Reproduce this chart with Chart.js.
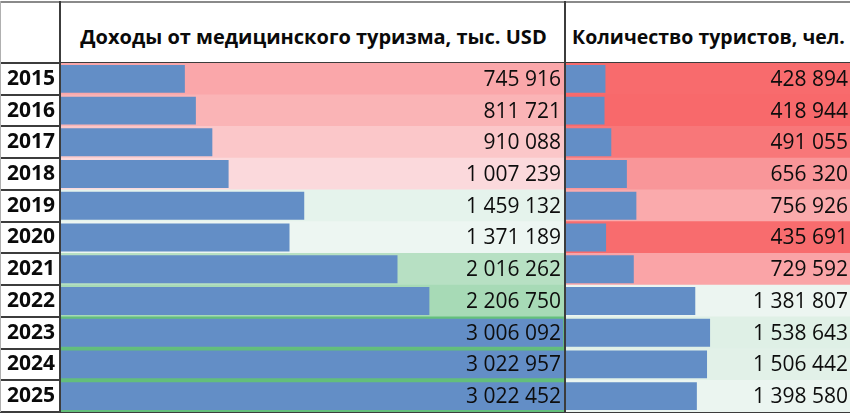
<!DOCTYPE html>
<html lang="ru">
<head>
<meta charset="utf-8">
<script src="https://cdn.jsdelivr.net/npm/chart.js@4.4.0/dist/chart.umd.min.js"></script>
<style>
  html, body { margin: 0; padding: 0; background: #fff; }
  #wrap { position: relative; width: 850px; height: 414px; overflow: hidden; font-family: 'Open Sans', sans-serif; }
  .hdr { position: absolute; top: 2px; height: 61px; display: flex; align-items: center; justify-content: center;
         font-weight: bold; font-size: 20px; color: #0a0a0a; white-space: nowrap; padding-top: 8px; box-sizing: border-box; }
  .vline { position: absolute; top: 1px; width: 2px; height: 411px; background: #3c3c3c; }
  .hline { position: absolute; left: 0; width: 850px; height: 2px; background: #8a8a8a; }
  canvas { position: absolute; top: 62px; }
</style>
</head>
<body>
<div id="wrap">
  <div class="hline" style="top:1px"></div>
  <div class="hdr" style="left:62px;width:503px">Доходы от медицинского туризма, тыс. USD</div>
  <div class="hdr" style="left:567px;width:283px;font-size:19.5px">Количество туристов, чел.</div>
  <canvas id="revenueChart" width="566" height="351" style="left:0"></canvas>
  <canvas id="touristChart" width="285" height="351" style="left:565px"></canvas>
  <div class="vline" style="left:0;background:#b0b0b0;width:1px"></div>
  <div class="vline" style="left:59px"></div>
  <div class="vline" style="left:564px"></div>
</div>
<script>
const years = ['2015', '2016', '2017', '2018', '2019', '2020', '2021', '2022', '2023', '2024', '2025'];
const revenue = [745916, 811721, 910088, 1007239, 1459132, 1371189, 2016262, 2206750, 3006092, 3022957, 3022452];
const tourists = [428894, 418944, 491055, 656320, 756926, 435691, 729592, 1381807, 1538643, 1506442, 1398580];

// Excel-like rules: one data bar scale and one 3-colour scale over both columns
const allValues = [...revenue, ...tourists];
const barMax = Math.max(...allValues);
const scaleMin = Math.min(...allValues);
const sorted = [...allValues].sort((a, b) => a - b);
const mid = sorted.length % 2 ? sorted[(sorted.length - 1) / 2]
  : (sorted[sorted.length / 2 - 1] + sorted[sorted.length / 2]) / 2;

const RED = [248, 105, 107], WHITE = [252, 252, 255], GREEN = [99, 190, 123];

function mix(a, b, t) {
  return 'rgb(' + a.map((c, i) => Math.round(c + (b[i] - c) * t)).join(',') + ')';
}

function cellColor(v) {
  if (v <= mid) return mix(RED, WHITE, (v - scaleMin) / (mid - scaleMin));
  return mix(WHITE, GREEN, (v - mid) / (barMax - mid));
}

function fmt(v) {
  return String(v).replace(/\B(?=(\d{3})+(?!\d))/g, ' ');
}

// Draws the number at the right side of every cell
const valueLabels = {
  id: 'valueLabels',
  afterDatasetsDraw(chart, args, opts) {
    const { ctx, chartArea } = chart;
    const meta = chart.getDatasetMeta(0);
    const data = chart.data.datasets[0].data;
    ctx.save();
    ctx.font = '21px "Open Sans"';
    ctx.fillStyle = '#0d0d0d';
    ctx.textAlign = 'right';
    ctx.textBaseline = 'middle';
    meta.data.forEach((bar, i) => {
      ctx.fillText(fmt(data[i]), chartArea.right - opts.pad, bar.y + 1);
    });
    ctx.restore();
  }
};

function createColumnChart(canvasId, values, showYears, pad) {
  const ctx = document.getElementById(canvasId);
  return new Chart(ctx, {
    type: 'bar',
    data: {
      labels: years,
      datasets: [{
        data: values,
        backgroundColor: '#638EC6',
        barPercentage: 0.88,
        categoryPercentage: 1,
        grouped: false,
        order: 0
      }, {
        data: values.map(() => barMax),
        backgroundColor: values.map(cellColor),
        barPercentage: 1,
        categoryPercentage: 1,
        grouped: false,
        order: 1
      }]
    },
    options: {
      indexAxis: 'y',
      responsive: false,
      animation: false,
      layout: { padding: { top: 1, bottom: 1, left: 0, right: 0 } },
      plugins: {
        legend: { display: false },
        tooltip: { enabled: false },
        valueLabels: { pad: pad }
      },
      scales: {
        x: { display: false, min: 0, max: barMax },
        y: {
          z: 1,
          grid: {
            offset: true,
            color: '#3c3c3c',
            lineWidth: 2,
            drawTicks: showYears,
            tickLength: 60
          },
          border: { display: false },
          ticks: {
            display: showYears,
            padding: -55,
            color: '#0a0a0a',
            font: { family: 'Open Sans', size: 21, weight: 'bold' }
          },
          afterFit: function (scale) { scale.width = showYears ? 60 : 0; }
        }
      }
    },
    plugins: [valueLabels]
  });
}

createColumnChart('revenueChart', revenue, true, 5);
createColumnChart('touristChart', tourists, false, 2);
</script>
</body>
</html>
